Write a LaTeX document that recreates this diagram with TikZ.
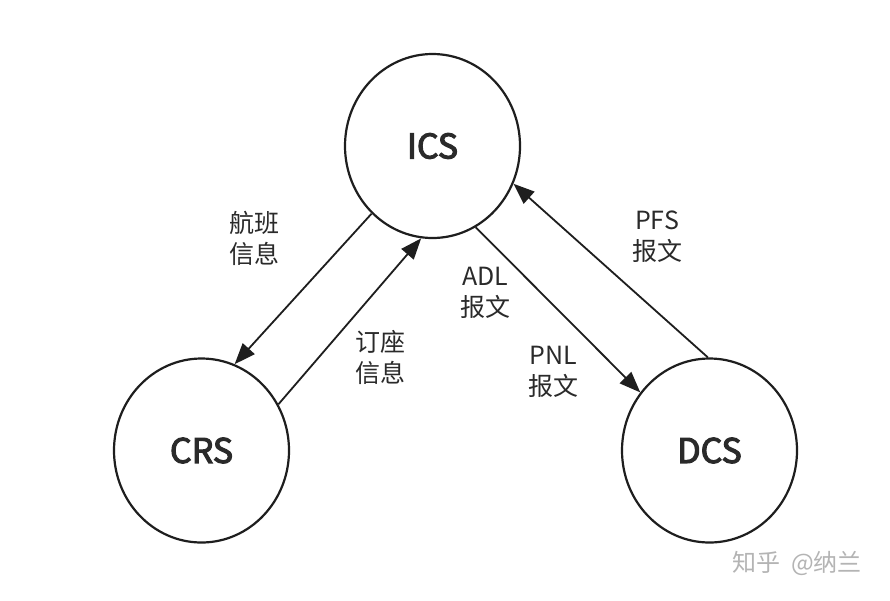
\documentclass[tikz,border=0pt]{standalone}
\usepackage{fontspec}
\newfontfamily\cjk{Noto Sans CJK SC}
\newfontfamily\cjkm[FakeBold=3.2]{Noto Sans CJK SC}
\usetikzlibrary{shapes.geometric,arrows.meta}
\definecolor{ink}{HTML}{1E1E1E}
\definecolor{txt}{HTML}{2A2A2A}
\definecolor{wm}{HTML}{B4B4B4}
\tikzset{
  sys/.style={ellipse, draw=ink, line width=2.2pt, minimum width=175pt, minimum height=184pt, inner sep=0pt,
    font=\cjkm\fontsize{34}{40}\selectfont, text=txt},
  flow/.style={draw=ink, line width=1.8pt, -{Triangle[length=21pt,width=16pt]}},
  lbl/.style={font=\cjk\fontsize{25}{31}\selectfont, text=txt, align=center, inner sep=0pt}
}
\begin{document}
\begin{tikzpicture}[x=1pt,y=-1pt]
\useasboundingbox (0,0) rectangle (890,600);
\fill[white] (0,0) rectangle (890,600);
\node[sys] (ics) at (432.5,146) {ICS};
\node[sys] (crs) at (201.5,450.5) {CRS};
\node[sys] (dcs) at (709.5,450.5) {DCS};
\draw[flow] (ics.228.8) -- (crs.69.3);
\draw[flow] (crs.31.2) -- (ics.263.2);
\draw[flow] (ics.298.1) -- (dcs.140.5);
\draw[flow] (dcs.91.7) -- (ics.335.9);
\node[lbl] (l1) at (254,238) {航班\\信息};
\node[lbl] (l2) at (380,357) {订座\\信息};
\node[lbl] (l3) at (485,293) {ADL\\报文};
\node[lbl] (l4) at (553,372) {PNL\\报文};
\node[lbl] (l5) at (657,237) {PFS\\报文};
\node[font=\cjk\fontsize{24}{28}\selectfont, text=wm, inner sep=0pt] (wmk) at (797,563) {知乎\ \ @纳兰};
\end{tikzpicture}
\end{document}
